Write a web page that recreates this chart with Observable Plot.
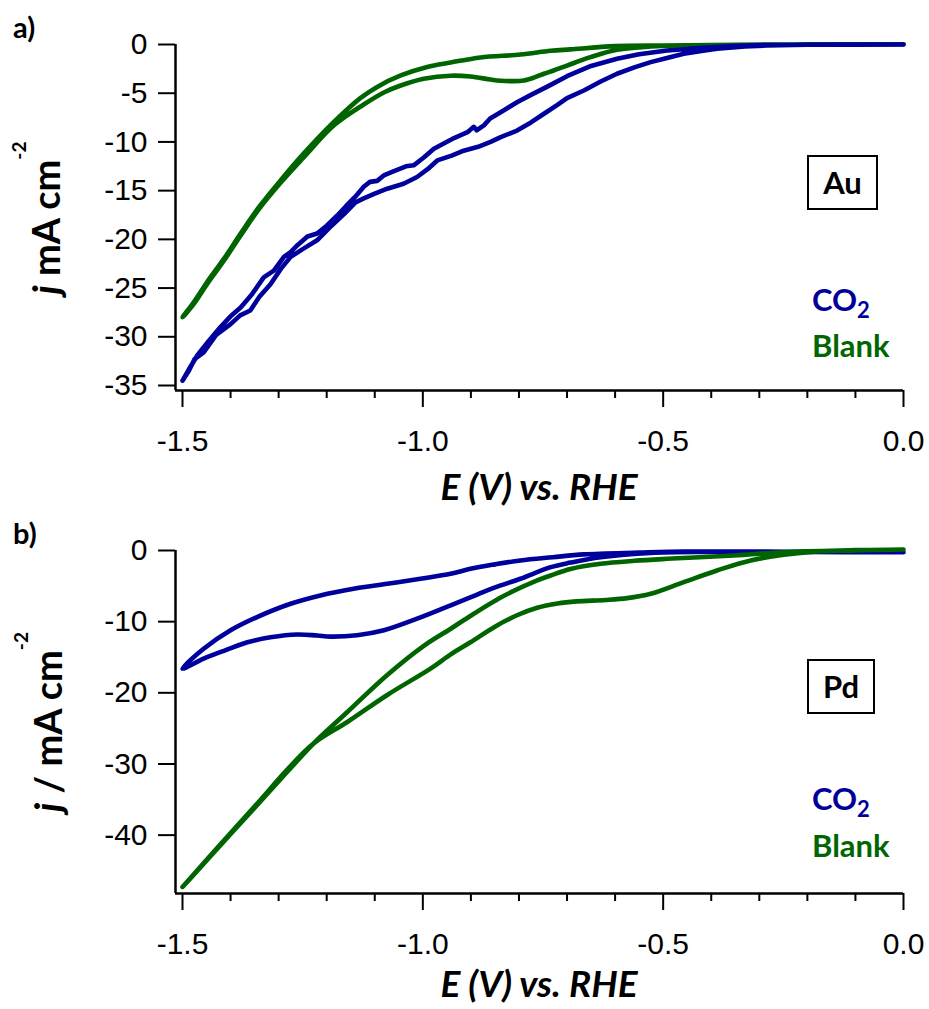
<!DOCTYPE html>
<html><head><meta charset="utf-8">
<script src="https://cdn.jsdelivr.net/npm/d3@7"></script>
<script src="https://cdn.jsdelivr.net/npm/@observablehq/plot@0.6"></script>
<style>
html,body{margin:0;padding:0;background:#fff;}
#fig{width:929px;}
svg{display:block;}
</style></head><body><div id="fig"></div>
<script>
// ---- tick values ----
const xTicksMajor = [-1.5, -1.0, -0.5, 0.0];
const xTicksMinor = [-1.4, -1.3, -1.2, -1.1, -0.9, -0.8, -0.7, -0.6, -0.4, -0.3, -0.2, -0.1];
const yTicksAu = [0, -5, -10, -15, -20, -25, -30, -35];
const yTicksPd = [0, -10, -20, -30, -40];

// ---- panel a) Au : [E (V vs RHE), j (mA cm-2)] along each CV loop ----
const auCO2 = [
  [0, 0], [-0.1, -0.01], [-0.2, -0.02], [-0.284, -0.05], [-0.353, -0.17], [-0.42, -0.35],
  [-0.492, -0.62], [-0.55, -1.0], [-0.596, -1.47], [-0.65, -2.2], [-0.70, -3.25], [-0.74, -4.3],
  [-0.776, -5.2], [-0.804, -5.92], [-0.832, -6.77], [-0.86, -7.6], [-0.873, -8.3], [-0.888, -8.8],
  [-0.894, -8.45], [-0.907, -9.0], [-0.935, -9.6], [-0.977, -10.7], [-0.998, -11.6], [-1.019, -12.4],
  [-1.035, -12.5], [-1.06, -13.0], [-1.08, -13.4], [-1.095, -14.0], [-1.11, -14.1], [-1.123, -14.6],
  [-1.14, -15.6], [-1.16, -16.6], [-1.178, -17.55], [-1.20, -18.6], [-1.22, -19.4], [-1.24, -19.7],
  [-1.261, -20.6], [-1.275, -21.3], [-1.289, -21.8], [-1.31, -23.2], [-1.331, -23.9], [-1.355, -25.6],
  [-1.379, -27.0], [-1.40, -27.9], [-1.421, -29.0], [-1.445, -30.4], [-1.469, -31.9], [-1.485, -33.2],
  [-1.5, -34.5],
  [-1.488, -33.6], [-1.475, -32.3], [-1.456, -31.6], [-1.43, -29.8], [-1.40, -28.7], [-1.38, -27.8],
  [-1.359, -27.3], [-1.34, -25.9], [-1.317, -24.6], [-1.295, -23.0], [-1.275, -21.8], [-1.25, -21.0],
  [-1.22, -20.1], [-1.19, -18.6], [-1.164, -17.4], [-1.14, -16.2], [-1.123, -15.8], [-1.10, -15.3],
  [-1.074, -14.8], [-1.04, -14.3], [-1.012, -13.6], [-0.99, -12.8], [-0.97, -11.9], [-0.94, -11.4],
  [-0.915, -10.9], [-0.885, -10.5], [-0.859, -10.0], [-0.838, -9.51], [-0.804, -8.83], [-0.775, -8.0],
  [-0.748, -7.11], [-0.72, -6.2], [-0.70, -5.5], [-0.665, -4.72], [-0.63, -3.8], [-0.596, -3.0],
  [-0.56, -2.35], [-0.526, -1.81], [-0.49, -1.35], [-0.457, -0.96], [-0.42, -0.67], [-0.388, -0.44],
  [-0.33, -0.2], [-0.284, -0.1], [-0.2, -0.03], [-0.1, -0.01], [0, 0]
];
const auBlank = [
  [0, 0.03], [-0.1, 0.03], [-0.2, 0.01], [-0.3, -0.02], [-0.39, -0.05], [-0.5, -0.1], [-0.6, -0.17],
  [-0.693, -0.5], [-0.734, -0.65], [-0.797, -1.03], [-0.88, -1.33], [-0.942, -1.85], [-0.991, -2.3],
  [-1.046, -3.18], [-1.095, -4.35], [-1.13, -5.5], [-1.185, -7.95], [-1.248, -11.2], [-1.296, -13.95],
  [-1.341, -16.7], [-1.379, -19.4], [-1.414, -22.0], [-1.449, -24.4], [-1.476, -26.4], [-1.5, -28.0],
  [-1.476, -26.6], [-1.449, -24.6], [-1.414, -22.2], [-1.379, -19.6], [-1.341, -16.9], [-1.296, -14.2],
  [-1.248, -11.6], [-1.185, -8.3], [-1.123, -6.16], [-1.08, -4.9], [-1.046, -4.21], [-0.998, -3.52],
  [-0.942, -3.2], [-0.901, -3.28], [-0.859, -3.6], [-0.838, -3.72], [-0.811, -3.76], [-0.79, -3.69],
  [-0.769, -3.4], [-0.748, -3.0], [-0.728, -2.67], [-0.70, -2.16], [-0.651, -1.30], [-0.596, -0.55],
  [-0.526, -0.2], [-0.45, -0.08], [-0.35, -0.02], [-0.2, 0.01], [-0.1, 0.03], [0, 0.03]
];

// ---- panel b) Pd ----
const pdCO2 = [
  [0, -0.25], [-0.1, -0.22], [-0.2, -0.18], [-0.3, -0.15], [-0.457, -0.15], [-0.55, -0.3],
  [-0.665, -0.55], [-0.73, -0.95], [-0.797, -1.40], [-0.85, -1.95], [-0.901, -2.57], [-0.942, -3.27],
  [-1.005, -3.97], [-1.074, -4.68], [-1.144, -5.38], [-1.213, -6.31], [-1.275, -7.48], [-1.345, -9.35],
  [-1.40, -11.2], [-1.456, -13.8], [-1.5, -16.6],
  [-1.456, -15.2], [-1.41, -14.0], [-1.365, -12.9], [-1.317, -12.2], [-1.261, -11.8], [-1.22, -11.95],
  [-1.192, -12.1], [-1.137, -11.9], [-1.081, -11.2], [-1.012, -9.58], [-0.942, -7.7], [-0.90, -6.55],
  [-0.866, -5.61], [-0.838, -4.91], [-0.797, -3.97], [-0.734, -2.34], [-0.693, -1.7], [-0.63, -0.94],
  [-0.526, -0.33], [-0.4, -0.2], [-0.2, -0.22], [0, -0.25]
];
const pdBlank = [
  [0, 0.14], [-0.1, 0.02], [-0.249, -0.24], [-0.353, -0.70], [-0.492, -1.17], [-0.56, -1.45],
  [-0.63, -1.87], [-0.693, -2.6], [-0.734, -3.51], [-0.762, -4.2], [-0.835, -6.5], [-0.915, -9.8],
  [-0.942, -11.0], [-0.998, -13.4], [-1.074, -17.5], [-1.157, -22.7], [-1.227, -27.1], [-1.282, -31.1],
  [-1.345, -35.8], [-1.421, -41.4], [-1.5, -47.3],
  [-1.421, -41.3], [-1.345, -35.6], [-1.282, -30.8], [-1.227, -27.1], [-1.157, -24.1], [-1.074, -20.3],
  [-0.984, -16.6], [-0.942, -14.6], [-0.901, -12.9], [-0.85, -10.7], [-0.804, -9.1], [-0.762, -8.05],
  [-0.72, -7.45], [-0.68, -7.15], [-0.62, -6.95], [-0.575, -6.69], [-0.526, -6.08],
  [-0.457, -4.44], [-0.388, -2.81], [-0.318, -1.40], [-0.249, -0.61], [-0.179, -0.14], [-0.1, 0.05],
  [0, 0.14]
];

const BLUE = "#00009c", GREEN = "#006400";
const TXT = "Lato, 'Open Sans', sans-serif";

function panel(o) {
  const top = o.top; // page offset of this svg; annotation positions below are page coordinates
  const chart = Plot.plot({
    width: 929, height: o.height,
    marginLeft: 175, marginRight: 26, marginTop: o.marginTop, marginBottom: o.marginBottom,
    style: {fontFamily: "'Liberation Sans', Arial, sans-serif", fontSize: "30px", color: "#000", background: "#fff", overflow: "visible"},
    x: {domain: [-1.5, 0], insetLeft: 7},
    y: {domain: o.yDomain, insetBottom: 5},
    marks: [
      ...o.series.map(s => Plot.line(s.values, {
        x: d => d[0], y: d => d[1], stroke: s.color, strokeWidth: 4.6,
        curve: s.curve, strokeLinejoin: "round", strokeLinecap: "round"
      })),
      Plot.ruleX([-1.5], {dx: -7, strokeWidth: 2.5}),
      Plot.ruleY([o.yDomain[0]], {dy: 5, strokeWidth: 2.5}),
      Plot.axisY({ticks: o.yTicks, tickSize: 17, tickPadding: 11, tickFormat: d => String(d), strokeWidth: 2, fontSize: 30, label: null}),
      Plot.axisX({ticks: xTicksMajor, tickSize: 17, tickPadding: 22, tickFormat: d => d.toFixed(1), strokeWidth: 2, fontSize: 30, label: null}),
      Plot.axisX({ticks: xTicksMinor, tickSize: 8, tickFormat: () => "", strokeWidth: 2, label: null})
    ]
  });
  const svg = d3.select(chart);
  // panel letter
  svg.append("text").attr("x", 13).attr("y", o.letterY - top).attr("text-anchor", "start")
    .attr("font-family", TXT).attr("font-weight", 700).attr("font-size", 29).text(o.letter);
  // y title
  const t = svg.append("text")
    .attr("transform", `translate(${o.yTitleX},${o.yTitleY - top}) rotate(-90)`)
    .attr("text-anchor", "middle").attr("font-family", TXT).attr("font-weight", 700).attr("font-size", 38);
  t.append("tspan").attr("font-style", "italic").text("j");
  t.append("tspan").text(o.yTitleRest);
  t.append("tspan").attr("font-size", 19).attr("dy", -34).text("-2");
  // x title
  svg.append("text").attr("x", 539).attr("y", o.xTitleY - top).attr("text-anchor", "middle")
    .attr("font-family", TXT).attr("font-weight", 700).attr("font-style", "italic").attr("font-size", 37)
    .text("E (V) vs. RHE");
  // metal box
  svg.append("rect").attr("x", o.box[0]).attr("y", o.box[1] - top).attr("width", o.box[2]).attr("height", o.box[3])
    .attr("fill", "#fff").attr("stroke", "#000").attr("stroke-width", 2);
  svg.append("text").attr("x", o.box[0] + o.box[2] / 2).attr("y", o.box[1] - top + o.box[3] / 2 + 11)
    .attr("text-anchor", "middle").attr("font-family", TXT).attr("font-weight", 700).attr("font-size", 31)
    .text(o.metal);
  // legend texts
  const c = svg.append("text").attr("x", 812).attr("y", o.legendY[0] - top).attr("text-anchor", "start")
    .attr("font-family", TXT).attr("font-weight", 700).attr("font-size", 31).attr("fill", "#000099");
  c.append("tspan").text("CO");
  c.append("tspan").attr("font-size", 22).attr("dy", 7).text("2");
  svg.append("text").attr("x", 812).attr("y", o.legendY[1] - top).attr("text-anchor", "start")
    .attr("font-family", TXT).attr("font-weight", 700).attr("font-size", 31).attr("fill", "#006600").text("Blank");
  return chart;
}

const fig = document.getElementById("fig");
fig.appendChild(panel({
  top: 0, height: 515, marginTop: 44, marginBottom: 125, yDomain: [-35, 0], yTicks: yTicksAu,
  series: [
    {values: auBlank, color: GREEN, curve: "catmull-rom"},
    {values: auCO2, color: BLUE, curve: "linear"}
  ],
  letter: "a)", letterY: 38, yTitleX: 60, yTitleY: 218, yTitleRest: " mA cm", xTitleY: 500,
  box: [808, 156, 69, 53], metal: "Au", legendY: [311, 357]
}));
fig.appendChild(panel({
  top: 515, height: 494, marginTop: 35, marginBottom: 116, yDomain: [-47.5, 0], yTicks: yTicksPd,
  series: [
    {values: pdCO2, color: BLUE, curve: "catmull-rom"},
    {values: pdBlank, color: GREEN, curve: "catmull-rom"}
  ],
  letter: "b)", letterY: 544, yTitleX: 62, yTitleY: 722, yTitleRest: " / mA cm", xTitleY: 997,
  box: [808, 660, 66, 53], metal: "Pd", legendY: [810, 857]
}));
</script>
</body></html>
